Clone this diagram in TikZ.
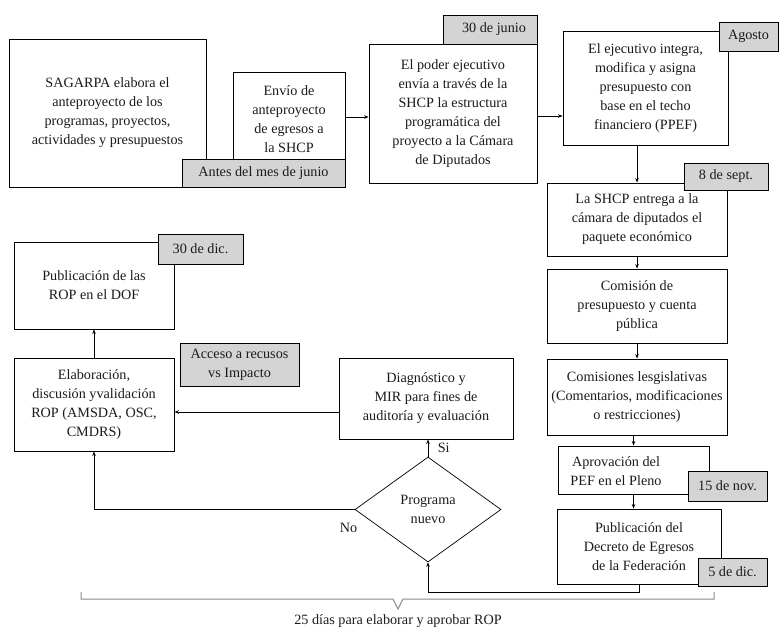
\documentclass[tikz,border=0pt]{standalone}
\usepackage{fontspec}
\setmainfont{Liberation Serif}
\usetikzlibrary{shapes.geometric,arrows.meta}
\definecolor{tagray}{HTML}{D4D4D4}
\definecolor{ink}{HTML}{1E1A1B}
\definecolor{bracegray}{HTML}{8A8A8A}
\tikzset{
  box/.style={draw=black, line width=0.9pt, fill=white, align=center, inner sep=0pt, text=ink},
  tag/.style={draw=black, line width=0.9pt, fill=tagray, align=center, inner sep=0pt, text=ink},
  plain/.style={align=center, inner sep=0pt, text=ink},
  arr/.style={line width=0.9pt, -{Stealth[length=4.5pt,width=3.5pt]}},
  bracel/.style={draw=bracegray, line width=1pt},
}
\begin{document}
\begin{tikzpicture}[x=1pt, y=-1pt, font=\fontsize{14.2pt}{19pt}\selectfont]
\useasboundingbox (0,0) rectangle (783,637);
% top row
\node[box, minimum width=197pt, minimum height=148pt] (b1) at (107.5,113) {SAGARPA elabora el\\anteproyecto de los\\programas, proyectos,\\actividades y presupuestos};
\node[box, minimum width=112pt, minimum height=94pt] (b2) at (289,119) {Envío de\\anteproyecto\\de egresos a\\la SHCP};
\node[tag, minimum width=163pt, minimum height=28pt] (g1) at (263.5,173) {Antes del mes de junio};
\node[box, minimum width=168pt, minimum height=139pt] (b3) at (453,113.5) {El poder ejecutivo\\envía a través de la\\SHCP la estructura\\programática del\\proyecto a la Cámara\\de Diputados};
\node[tag, minimum width=94pt, minimum height=29pt] (g2) at (490,29.5) {\hspace*{8pt}30 de junio};
\node[box, minimum width=165pt, minimum height=114pt] (b4) at (645.5,88) {El ejecutivo integra,\\modifica y asigna\\presupuesto con\\base en el techo\\financiero (PPEF)};
\node[tag, minimum width=59pt, minimum height=29pt] (g3) at (748.5,36.5) {Agosto};
% right column
\node[box, minimum width=180pt, minimum height=73pt] (b5) at (637,219.5) {La SHCP entrega a la\\cámara de diputados el\\paquete económico};
\node[tag, minimum width=84pt, minimum height=27pt] (g4) at (726,176.5) {8 de sept.};
\node[box, minimum width=180pt, minimum height=74pt] (b6) at (637,306) {Comisión de\\presupuesto y cuenta\\pública};
\node[box, minimum width=180pt, minimum height=76pt] (b7) at (637,397) {Comisiones lesgislativas\\(Comentarios, modificaciones\\o restricciones)};
\node[box, minimum width=151pt, minimum height=48pt] (b8) at (633.5,470) {};
\node[plain] (b8t) at (616,471) {Aprovación del\\PEF en el Pleno};
\node[tag, minimum width=79pt, minimum height=30pt] (g5) at (727.5,486) {15 de nov.};
\node[box, minimum width=164pt, minimum height=75pt] (b9) at (639,546.5) {Publicación del\\Decreto de Egresos\\de la Federación};
\node[tag, minimum width=69pt, minimum height=28pt] (g6) at (732.5,572) {5 de dic.};
% middle / left
\node[draw=black, line width=0.7pt, diamond, aspect=1.39, minimum width=146pt, minimum height=105pt, inner sep=0pt, align=center, text=ink] (dia) at (428,509.5) {Programa\\nuevo};
\node[box, minimum width=174pt, minimum height=81pt] (diag) at (426,398.5) {Diagnóstico y\\MIR para fines de\\auditoría y evaluación};
\node[box, minimum width=160pt, minimum height=93pt] (elab) at (94,404.5) {Elaboración,\\discusión yvalidación\\ROP (AMSDA, OSC,\\CMDRS)};
\node[box, minimum width=160pt, minimum height=87pt] (pub) at (94,285.5) {Publicación de las\\ROP en el DOF};
\node[tag, minimum width=85pt, minimum height=30pt] (g7) at (200.5,249) {30 de dic.};
\node[tag, minimum width=119pt, minimum height=43pt] (g8) at (239.5,364.5) {Acceso a recusos\\vs Impacto};
% connectors
\draw[arr] ([yshift=2pt]b2.east) -- ([yshift=2pt]b2.east -| b3.west);
\draw[arr] ([yshift=-2.5pt]b3.east) -- ([yshift=-2.5pt]b3.east -| b4.west);
\draw[arr] (b4.south -| b5.north) -- (b5.north);
\draw[arr] (b5.south) -- (b6.north);
\draw[arr] (b6.south) -- (b7.north);
\draw[arr] (b7.south -| b8.north) -- (b8.north);
\draw[arr] (b8.south) -- (b8.south |- b9.north);
\draw[arr] (b9.south) -- ++(0,8) -| (dia.south);
\draw[arr] (dia.north) -- (dia.north |- diag.south) node[midway, right, xshift=6pt, text=ink] (si) {Si};
\draw[arr] (dia.west) -| (elab.south);
\node[plain] (no) at ([xshift=-6pt, yshift=-18pt]dia.west) {No};
\draw[arr] ([yshift=-13.5pt]diag.west) -- ([yshift=-13.5pt]diag.west -| elab.east);
\draw[arr] (elab.north) -- (elab.north |- pub.south);
% brace
\coordinate (brl) at (81,592);
\coordinate (brr) at (714,592);
\coordinate (brt) at (398,609);
\draw[bracel] (brl) -- (81,599) -- (393,599) -- (brt) -- (403,599) -- (714,599) -- (brr);
\node[plain] (brtext) at (398,621) {25 días para elaborar y aprobar ROP};
\end{tikzpicture}
\end{document}
